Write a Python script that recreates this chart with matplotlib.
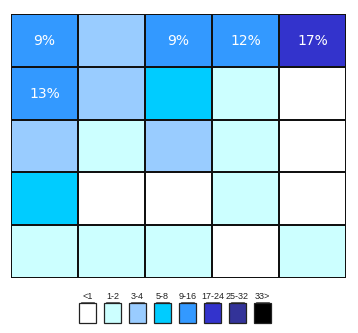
import matplotlib
matplotlib.use("Agg")
import matplotlib.pyplot as plt
from matplotlib.colors import ListedColormap, BoundaryNorm
from matplotlib.patches import Rectangle
import numpy as np

# legend classes and their colours
classes = ["<1", "1-2", "3-4", "5-8", "9-16", "17-24", "25-32", "33>"]
colors = ["#FFFFFF", "#CCFFFF", "#99CCFF", "#00CCFF", "#3399FF", "#3333CC", "#333399", "#000000"]

# class index of each cell, top row first
cell_class = [
    [4, 2, 4, 4, 5],
    [4, 2, 3, 1, 0],
    [2, 1, 2, 1, 0],
    [3, 0, 0, 1, 0],
    [1, 1, 1, 0, 1],
]

# (row, col, text) labels inside cells
cell_labels = [
    (0, 0, "9%"),
    (0, 2, "9%"),
    (0, 3, "12%"),
    (0, 4, "17%"),
    (1, 0, "13%"),
]

W, H = 358, 333
fig = plt.figure(figsize=(W / 100, H / 100), dpi=100)

# main grid
ax = fig.add_axes([11 / W, 1 - 278 / H, 335 / W, 264 / H])
data = np.array(cell_class)
cmap = ListedColormap(colors)
norm = BoundaryNorm(np.arange(len(colors) + 1) - 0.5, len(colors))
ax.pcolormesh(data, cmap=cmap, norm=norm, edgecolors="#111111", linewidth=1.3)
ax.set_xlim(0, data.shape[1])
ax.set_ylim(data.shape[0], 0)
ax.axis("off")

for r, c, txt in cell_labels:
    ax.text(c + 0.5, r + 0.52, txt, ha="center", va="center", color="white",
            fontsize=10, family="DejaVu Sans")

# legend
lax = fig.add_axes([0, 0, 1, 1])
lax.set_xlim(0, W)
lax.set_ylim(H, 0)
lax.axis("off")
x0, step, sw, sh, ytop = 79, 25, 17, 20, 303
for i, (lab, col) in enumerate(zip(classes, colors)):
    x = x0 + i * step
    lax.add_patch(Rectangle((x, ytop), sw, sh, facecolor=col, edgecolor="#222222", lw=0.9))
    lax.text(x + sw / 2, ytop - 2, lab, ha="center", va="bottom", fontsize=6.5,
             color="#222222", family=["Liberation Sans Narrow", "Liberation Sans"])
    lax.plot([x + 2, x + sw - 2], [ytop - 1.5, ytop - 1.5], color="#222222", lw=0.5)

fig.savefig("out.png", dpi=100)
